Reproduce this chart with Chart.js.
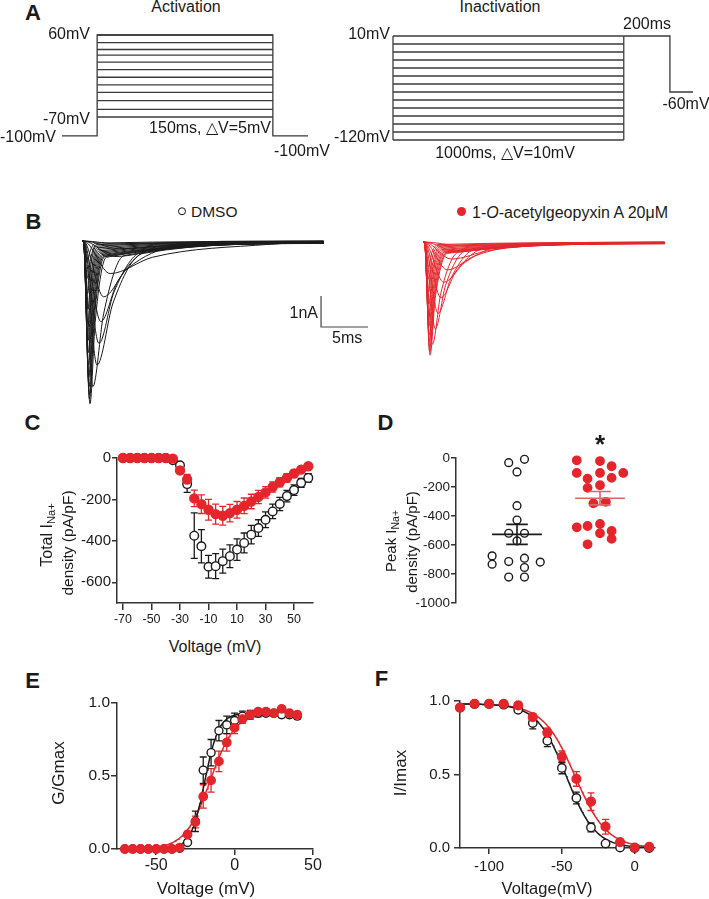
<!DOCTYPE html>
<html lang="en">
<head>
<meta charset="UTF-8">
<title>Na+ current figure</title>
<script src="https://cdn.jsdelivr.net/npm/chart.js@4"></script>
<style>
  body { margin: 0; background: #fff; }
  #fig { position: relative; width: 709px; height: 899px; overflow: hidden; background: #fff;
         font-family: "Liberation Sans", Arial, Helvetica, sans-serif; color: #1a1a1a; }
  #fig canvas { position: absolute; }
  .t { position: absolute; white-space: nowrap; line-height: 1; font-size: 16px; transform: translate(-50%, -50%); }
  .r { transform: translate(-100%, -50%); }
  .l { transform: translate(0, -50%); }
  .v { transform: translate(-50%, -50%) rotate(-90deg); }
  .pl { font-weight: bold; font-size: 22px; }
  sub { font-size: 70%; vertical-align: -0.3em; line-height: 0; }
  .mk { display: inline-block; width: 6px; height: 6px; border: 1.4px solid #111; border-radius: 50%;
        margin-right: 5px; vertical-align: middle; position: relative; top: -2px; }
  .mk.fill { width: 9px; height: 9px; border: none; background: #e4262c; margin-right: 6px; }
</style>
</head>
<body>
<div id="fig"></div>
<script>
// ---- A: voltage protocols (mV, ms) ----
const actLevels = [60, 48, 37, 28, 17, 5, -7, -19, -31, -44, -58, -70];
const actHold = -100;
const actTimes = [30, 150, 30];          // holding, step, holding
const inactLevels = [10, 0, -10, -20, -30, -40, -50, -60, -70, -80, -90, -100, -110, -120];
const inactTest = 10;
const inactTail = -60;
const inactTimes = [1000, 200, 100];     // prepulse, test, tail

// ---- B: current traces, peak (nA), time of peak, half decay, 10% decay (ms) ----
const traceDelay = 0.15;
const traceEnd = 25.7;
const dmsoPeakI  = [-5.25, -5.1, -4.95, -4.7, -4.4, -4.0, -3.6, -3.2, -2.7, -2.2, -1.7, -1.2, -0.7, -4.7, -4.0, -3.3, -2.6, -1.8, -1.05, -0.5, -0.25, -0.1];
const dmsoPeakT  = [0.85, 0.8, 0.8, 0.75, 0.72, 0.7, 0.68, 0.66, 0.65, 0.63, 0.6, 0.6, 0.55, 1.15, 1.6, 1.8, 2.0, 2.3, 3.0, 3.5, 4.0, 4.0];
const dmsoHalfT  = [1.4, 1.3, 1.25, 1.2, 1.15, 1.1, 1.05, 1.0, 0.98, 0.95, 0.9, 0.9, 0.85, 2.3, 3.3, 3.4, 3.8, 4.8, 7.5, 9, 10, 11];
const dmsoTenthT = [2.6, 2.4, 2.3, 2.2, 2.1, 2.0, 1.9, 1.8, 1.7, 1.6, 1.5, 1.5, 1.4, 4.5, 6.5, 6.5, 7.5, 10, 20, 20, 18, 15];
const drugPeakI  = [-3.65, -3.55, -3.4, -3.2, -3.0, -2.7, -2.4, -2.0, -1.6, -1.2, -0.8, -3.3, -2.8, -2.3, -1.8, -1.3, -0.9, -0.55, -0.3, -0.12];
const drugPeakT  = [0.75, 0.72, 0.72, 0.7, 0.68, 0.66, 0.65, 0.63, 0.6, 0.6, 0.58, 1.0, 1.3, 1.6, 1.9, 2.2, 2.6, 3.0, 3.5, 4.0];
const drugHalfT  = [1.3, 1.25, 1.2, 1.15, 1.1, 1.05, 1.0, 0.98, 0.95, 0.9, 0.88, 1.9, 2.4, 3.0, 3.6, 4.5, 5.5, 7, 9, 11];
const drugTenthT = [2.6, 2.5, 2.4, 2.3, 2.2, 2.1, 2.0, 1.9, 1.8, 1.7, 1.6, 3.8, 4.6, 5.6, 6.8, 8.5, 11, 15, 18, 18];
const scaleBarAt = [25.43, -1.774];      // ms, nA
const scaleBarSize = [5, 1];             // 5 ms, 1 nA

// ---- C: I-V (pA/pF) ----
const cVolt = [-70, -65, -60, -55, -50, -45, -40, -35, -30, -25, -20, -15, -10, -5, 0, 5, 10, 15, 20, 25, 30, 35, 40, 45, 50, 55, 60];
const cDmso = [0, 0, 0, 0, 0, 0, 0, -11, -35, -126, -375, -426, -525, -522, -498, -474, -442, -410, -370, -338, -298, -258, -222, -184, -155, -120, -96];
const cDmsoErr = [0, 0, 0, 0, 0, 0, 0, 5, 10, 40, 110, 80, 55, 60, 58, 55, 52, 48, 45, 40, 38, 35, 32, 28, 25, 22, 20];
const cDrug = [0, 0, 0, 0, 0, 0, 0, -3, -60, -104, -195, -223, -250, -271, -279, -266, -250, -231, -210, -188, -166, -140, -117, -96, -75, -56, -40];
const cDrugErr = [0, 0, 0, 0, 0, 0, 0, 3, 15, 25, 40, 45, 50, 48, 45, 42, 40, 38, 35, 32, 28, 25, 22, 20, 16, 12, 10];
const cXTicks = [-70, -50, -30, -10, 10, 30, 50];
const cYTicks = [0, -200, -400, -600];

// ---- D: peak density per cell ----
const dDmso = [-32, -9, -96, -329, -428, -519, -519, -572, -675, -732, -714, -691, -718, -755, -821, -821];
const dDmsoJitter = [-0.10, 0.09, 0, 0, 0, -0.10, 0.09, 0, -0.30, -0.30, -0.10, 0.09, 0.28, 0.09, -0.10, 0.09];
const dDrug = [-16, -21, -57, -103, -103, -103, -137, -142, -188, -206, -313, -302, -478, -469, -455, -503, -519, -558, -595];
const dDrugJitter = [-0.28, 0, 0.14, -0.28, 0, 0.28, 0.14, -0.15, 0, -0.15, -0.08, 0.07, -0.28, -0.15, 0, 0.14, 0, 0.14, -0.15];
const dYTicks = [0, -200, -400, -600, -800, -1000];

// ---- E: activation G/Gmax ----
const eVolt = [-70, -65, -60, -55, -50, -45, -40, -35, -30, -25, -20, -15, -10, -5, 0, 5, 10, 15, 20, 25, 30, 35, 40];
const eDmso = [0, 0, 0, 0, 0, 0, 0, 0.005, 0.045, 0.19, 0.54, 0.66, 0.81, 0.85, 0.88, 0.91, 0.92, 0.93, 0.93, 0.93, 0.92, 0.92, 0.91];
const eDmsoErr = [0, 0, 0, 0, 0, 0, 0, 0.005, 0.01, 0.07, 0.09, 0.09, 0.07, 0.06, 0.05, 0.035, 0.03, 0.025, 0.02, 0.02, 0.02, 0.02, 0.02];
const eDrug = [0, 0, 0, 0, 0, 0, 0, 0.01, 0.1, 0.185, 0.36, 0.47, 0.6, 0.73, 0.83, 0.89, 0.92, 0.94, 0.94, 0.93, 0.96, 0.93, 0.92];
const eDrugErr = [0, 0, 0, 0, 0, 0, 0, 0.005, 0.02, 0.04, 0.08, 0.08, 0.07, 0.06, 0.04, 0.03, 0.02, 0.02, 0.02, 0.02, 0.02, 0.02, 0.02];
const eFitDmso = [0.93, -19, 4.5];     // Gmax, V1/2, k
const eFitDrug = [0.94, -15.5, 8];
const eXTicks = [-50, 0, 50];
const eYTicks = [0, 0.5, 1];

// ---- F: steady-state inactivation I/Imax ----
const fVolt = [-120, -110, -100, -90, -80, -70, -60, -50, -40, -30, -20, -10, 0, 10];
const fDmso = [0.955, 0.98, 0.98, 0.975, 0.94, 0.85, 0.73, 0.545, 0.34, 0.14, 0.03, 0.003, 0, 0];
const fDmsoErr = [0.01, 0.01, 0.01, 0.01, 0.01, 0.04, 0.04, 0.04, 0.04, 0.03, 0.01, 0, 0, 0];
const fDrug = [0.955, 0.98, 0.98, 0.98, 0.97, 0.89, 0.785, 0.62, 0.47, 0.315, 0.145, 0.04, 0.003, 0.007];
const fDrugErr = [0.02, 0.01, 0.01, 0.02, 0.02, 0.02, 0.03, 0.04, 0.05, 0.06, 0.05, 0.01, 0.005, 0.005];
const fFitDmso = [0.98, -47, 10];      // Imax, V1/2, k
const fFitDrug = [0.98, -41, 11];
const fXTicks = [-100, -50, 0];
const fYTicks = [0, 0.5, 1];

const red = '#e4262c';
const ink = '#1a1a1a';
const axisColor = '#333';

Chart.defaults.animation = false;
Chart.defaults.responsive = false;
Chart.defaults.events = [];
Chart.defaults.font.family = '"Liberation Sans", Arial, Helvetica, sans-serif';
Chart.defaults.plugins.legend.display = false;
Chart.defaults.plugins.tooltip.enabled = false;

const fig = document.getElementById('fig');

function place(left, top, w, h) {
    const c = document.createElement('canvas');
    c.width = w; c.height = h;
    c.style.left = left + 'px'; c.style.top = top + 'px';
    c.style.width = w + 'px'; c.style.height = h + 'px';
    fig.appendChild(c);
    return c;
}

function text(x, y, html, cls, css) {
    const d = document.createElement('div');
    d.className = 't ' + (cls || '');
    d.style.left = x + 'px'; d.style.top = y + 'px';
    if (css) d.style.cssText += css;
    d.innerHTML = html;
    fig.appendChild(d);
}

// chart with hidden axes: the chart area is the whole canvas
function plainChart(left, top, w, h, xr, yr, datasets, plugins) {
    return new Chart(place(left, top, w, h), {
        type: 'line',
        data: { datasets },
        options: {
            layout: { padding: 0 },
            scales: {
                x: { type: 'linear', display: false, min: xr[0], max: xr[1] },
                y: { type: 'linear', display: false, min: yr[0], max: yr[1] }
            }
        },
        plugins: plugins || []
    });
}

function axis(which, cfg, size) {
    return {
        type: 'linear', display: cfg.display !== false, min: cfg.min, max: cfg.max,
        afterBuildTicks: s => { s.ticks = cfg.ticks.map(v => ({ value: v })); },
        afterFit: s => {
            if (which === 'x') s.height = size; else s.width = size;
            s.paddingLeft = 0; s.paddingRight = 0; s.paddingTop = 0; s.paddingBottom = 0;
        },
        grid: { display: true, drawOnChartArea: false, drawTicks: true, tickLength: cfg.tick || 6, color: axisColor, lineWidth: 1.5 },
        border: { display: true, color: axisColor, width: 1.5 },
        ticks: { autoSkip: false, maxRotation: 0, padding: cfg.pad == null ? 2 : cfg.pad, color: ink,
                 font: { size: cfg.font || 15 }, callback: cfg.fmt || (v => String(v)) }
    };
}

// chart whose plot area sits exactly on `area` (page pixels)
function axisChart(area, dims, xCfg, yCfg, datasets, plugins) {
    const p = dims.pad;
    const left = area.left - dims.yW - p.l, top = area.top - p.t;
    const w = p.l + dims.yW + area.w + p.r, h = p.t + area.h + dims.xH + p.b;
    return new Chart(place(left, top, w, h), {
        type: 'line',
        data: { datasets },
        options: {
            layout: { padding: { left: p.l, right: p.r, top: p.t, bottom: p.b } },
            scales: { x: axis('x', xCfg, dims.xH), y: axis('y', yCfg, dims.yW) }
        },
        plugins: plugins || []
    });
}

const errorBars = {
    id: 'errorBars',
    beforeDatasetsDraw(chart) {
        const ctx = chart.ctx, xs = chart.scales.x, ys = chart.scales.y;
        chart.data.datasets.forEach(ds => {
            if (!ds.errors) return;
            ctx.save();
            ctx.strokeStyle = ds.errorColor;
            ctx.lineWidth = 1.3;
            ds.data.forEach((p, i) => {
                const e = ds.errors[i];
                if (!e) return;
                const x = xs.getPixelForValue(p.x);
                const y1 = ys.getPixelForValue(p.y - e), y2 = ys.getPixelForValue(p.y + e);
                ctx.beginPath();
                ctx.moveTo(x, y1); ctx.lineTo(x, y2);
                ctx.moveTo(x - 3.5, y1); ctx.lineTo(x + 3.5, y1);
                ctx.moveTo(x - 3.5, y2); ctx.lineTo(x + 3.5, y2);
                ctx.stroke();
            });
            ctx.restore();
        });
    }
};

function pts(xs, ys) { return xs.map((x, i) => ({ x, y: ys[i] })); }

function pointSet(xs, ys, errs, filled, r) {
    return {
        data: pts(xs, ys), errors: errs, errorColor: filled ? red : ink, showLine: false, clip: false,
        pointRadius: r, pointBorderWidth: 1.4,
        pointBackgroundColor: filled ? red : '#fff', pointBorderColor: filled ? red : ink
    };
}

function fitSet(fn, prm, x0, x1, color) {
    const d = [];
    for (let v = x0; v <= x1 + 1e-9; v += 0.5) d.push({ x: v, y: fn(prm, v) });
    return { data: d, borderColor: color, borderWidth: 1.5, pointRadius: 0, tension: 0, clip: false };
}
const boltzAct = (p, v) => p[0] / (1 + Math.exp((p[1] - v) / p[2]));
const boltzInact = (p, v) => p[0] / (1 + Math.exp((v - p[1]) / p[2]));

// ---------- A ----------
const protoLine = (data) => ({ data, borderColor: '#3a3a3a', borderWidth: 1.3, pointRadius: 0, tension: 0, clip: false });
{
    const [pre, dur, post] = actTimes;
    const top = actLevels[0];
    const sets = [protoLine([{ x: 0, y: actHold }, { x: pre, y: actHold }, { x: pre, y: top },
                             { x: pre + dur, y: top }, { x: pre + dur, y: actHold }, { x: pre + dur + post, y: actHold }])];
    actLevels.forEach(v => sets.push(protoLine([{ x: pre, y: v }, { x: pre + dur, y: v }])));
    plainChart(62, 30, 246, 118, [0, pre + dur + post], [-119.1, 67.93], sets);
}
{
    const [pre, test, tail] = inactTimes;
    const hi = inactLevels[0], lo = inactLevels[inactLevels.length - 1];
    const sets = [protoLine([{ x: 0, y: lo }, { x: 0, y: hi }]),
                  protoLine([{ x: pre, y: lo }, { x: pre, y: hi }]),
                  protoLine([{ x: pre, y: inactTest }, { x: pre + test, y: inactTest }, { x: pre + test, y: inactTail }, { x: pre + test + tail, y: inactTail }])];
    inactLevels.forEach(v => sets.push(protoLine([{ x: 0, y: v }, { x: pre, y: v }])));
    const pxPerMs = 300 / (pre + test + tail);
    plainChart(388, 30, 310, 118, [-5 / pxPerMs, pre + test + tail + 5 / pxPerMs], [-130, 17.5], sets);
}

// ---------- B ----------
function traceSets(peakI, peakT, halfT, tenthT, color) {
    return peakI.map((ip, i) => ({
        data: [{ x: 0, y: 0 }, { x: traceDelay, y: 0 }, { x: peakT[i], y: ip }, { x: halfT[i], y: ip * 0.5 },
               { x: tenthT[i], y: ip * 0.1 }, { x: traceEnd, y: ip * 0.015 }],
        borderColor: color, borderWidth: 1, pointRadius: 0, cubicInterpolationMode: 'monotone', clip: false
    }));
}
const scaleBar = {
    id: 'scaleBar',
    afterDatasetsDraw(chart) {
        const ctx = chart.ctx, xs = chart.scales.x, ys = chart.scales.y;
        const x0 = xs.getPixelForValue(scaleBarAt[0]), x1 = xs.getPixelForValue(scaleBarAt[0] + scaleBarSize[0]);
        const y0 = ys.getPixelForValue(scaleBarAt[1]), y1 = ys.getPixelForValue(scaleBarAt[1] - scaleBarSize[1]);
        ctx.save();
        ctx.strokeStyle = '#444'; ctx.lineWidth = 1.2;
        ctx.beginPath(); ctx.moveTo(x0, y0); ctx.lineTo(x0, y1); ctx.lineTo(x1, y1); ctx.stroke();
        ctx.restore();
    }
};
plainChart(82, 232, 298, 178, [0, 298 / 9.4], [-(410 - 241) / 31, (241 - 232) / 31],
           traceSets(dmsoPeakI, dmsoPeakT, dmsoHalfT, dmsoTenthT, ink), [scaleBar]);
plainChart(423, 232, 250, 178, [0, 250 / 9.4], [-(410 - 242) / 31, (242 - 232) / 31],
           traceSets(drugPeakI, drugPeakT, drugHalfT, drugTenthT, red));

// Chart.js paints dataset 0 last (on top): treated points first, then DMSO, then fits
// ---------- C ----------
axisChart({ left: 117, top: 458, w: 196, h: 145 }, { yW: 62, xH: 30, pad: { l: 0, t: 10, r: 14, b: 0 } },
    { min: -74.2, max: 63.3, ticks: cXTicks, font: 12.5, tick: 7, pad: 2 },
    { min: -700, max: 0, ticks: cYTicks, font: 15, tick: 5, pad: 1 },
    [pointSet(cVolt, cDrug, cDrugErr, true, 4.5), pointSet(cVolt, cDmso, cDmsoErr, false, 4.3)],
    [errorBars]);

// ---------- D ----------
const meanSem = {
    id: 'meanSem',
    afterDatasetsDraw(chart) {
        const ctx = chart.ctx, xs = chart.scales.x, ys = chart.scales.y;
        [[dDmso, 1, ink], [dDrug, 2, '#e06464']].forEach(([vals, cx, color]) => {
            const n = vals.length;
            const mean = vals.reduce((a, b) => a + b, 0) / n;
            const sd = Math.sqrt(vals.reduce((a, b) => a + (b - mean) * (b - mean), 0) / (n - 1));
            const sem = sd / Math.sqrt(n);
            const ym = ys.getPixelForValue(mean), yt = ys.getPixelForValue(mean + sem), yb = ys.getPixelForValue(mean - sem);
            const xl = xs.getPixelForValue(cx - 0.3), xr = xs.getPixelForValue(cx + 0.3);
            const cl = xs.getPixelForValue(cx - 0.13), cr = xs.getPixelForValue(cx + 0.13), xc = xs.getPixelForValue(cx);
            ctx.save();
            ctx.strokeStyle = color; ctx.lineWidth = 1.6;
            ctx.beginPath();
            ctx.moveTo(xl, ym); ctx.lineTo(xr, ym);
            ctx.moveTo(xc, yt); ctx.lineTo(xc, yb);
            ctx.moveTo(cl, yt); ctx.lineTo(cr, yt);
            ctx.moveTo(cl, yb); ctx.lineTo(cr, yb);
            ctx.stroke();
            ctx.restore();
        });
    }
};
axisChart({ left: 456, top: 458, w: 190, h: 145 }, { yW: 56, xH: 0, pad: { l: 0, t: 10, r: 10, b: 8 } },
    { display: false, min: 0.265, max: 0.265 + 190 / 83, ticks: [] },
    { min: -1000, max: 0, ticks: dYTicks, font: 13.5, tick: 5, pad: 1 },
    [pointSet(dDrugJitter.map(j => 2 + j), dDrug, null, true, 4.2),
     pointSet(dDmsoJitter.map(j => 1 + j), dDmso, null, false, 3.9)],
    [meanSem]);

// ---------- E ----------
axisChart({ left: 117, top: 703, w: 196, h: 146 }, { yW: 52, xH: 30, pad: { l: 0, t: 10, r: 16, b: 0 } },
    { min: -75, max: 50, ticks: eXTicks, font: 16, tick: 6, pad: 1 },
    { min: 0, max: 1, ticks: eYTicks, font: 15.5, tick: 6, pad: 1, fmt: v => v.toFixed(1) },
    [pointSet(eVolt, eDrug, eDrugErr, true, 4.2), pointSet(eVolt, eDmso, eDmsoErr, false, 4),
     fitSet(boltzAct, eFitDmso, -70, 40, ink), fitSet(boltzAct, eFitDrug, -70, 40, red)],
    [errorBars]);

// ---------- F ----------
axisChart({ left: 460, top: 701, w: 195, h: 147 }, { yW: 52, xH: 32, pad: { l: 0, t: 10, r: 16, b: 0 } },
    { min: -120, max: 14, ticks: fXTicks, font: 15, tick: 6, pad: 4 },
    { min: 0, max: 1, ticks: fYTicks, font: 15, tick: 6, pad: 4, fmt: v => v.toFixed(1) },
    [pointSet(fVolt, fDrug, fDrugErr, true, 4.4), pointSet(fVolt, fDmso, fDmsoErr, false, 4.2),
     fitSet(boltzInact, fFitDmso, -120, 10, ink), fitSet(boltzInact, fFitDrug, -120, 10, red)],
    [errorBars]);

// ---------- text ----------
text(33, 13, 'A', 'pl');
text(33.5, 221.5, 'B', 'pl');
text(32.5, 423, 'C', 'pl');
text(385.5, 423, 'D', 'pl');
text(32.5, 680.5, 'E', 'pl');
text(381.5, 678.5, 'F', 'pl');

text(186, 7, 'Activation');
text(90, 34, '60mV', 'r');
text(90, 119, '-70mV', 'r');
text(0, 137, '-100mV', 'l');
text(210, 128, '150ms, △V=5mV');
text(302, 151, '-100mV');
text(500, 7, 'Inactivation');
text(390, 34, '10mV', 'r');
text(390, 137, '-120mV', 'r');
text(647, 24, '200ms');
text(686, 104, '-60mV');
text(505, 153, '1000ms, △V=10mV');

text(178, 212, '<span class="mk"></span>DMSO', 'l', 'font-size:15.5px');
text(457, 213, '<span class="mk fill"></span>1-<i>O</i>-acetylgeopyxin A 20μM', 'l');
text(318, 313, '1nA', 'r');
text(332, 338, '5ms', 'l');

text(47, 535, 'Total I<sub>Na+</sub>', 'v', 'font-size:16px');
text(68, 543, 'density (pA/pF)', 'v', 'font-size:15.5px');
text(215, 647, 'Voltage (mV)', '', 'font-size:16px');

text(600, 444, '*', '', 'font-weight:bold;font-size:26px');
text(390, 541, 'Peak I<sub>Na+</sub>', 'v', 'font-size:15px');
text(411, 542, 'density (pA/pF)', 'v', 'font-size:15px');

text(58, 773, 'G/Gmax', 'v', 'font-size:17px');
text(206, 888, 'Voltage (mV)', '', 'font-size:17px');
text(400, 773, 'I/Imax', 'v', 'font-size:17px');
text(547, 888, 'Voltage(mV)', '', 'font-size:16.5px');
</script>
</body>
</html>
